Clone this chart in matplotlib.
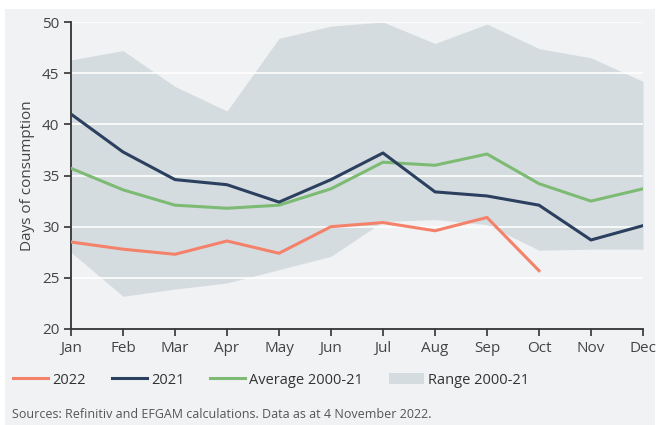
import matplotlib
matplotlib.use("Agg")
import matplotlib.pyplot as plt
from matplotlib.patches import Rectangle, Patch
from matplotlib.lines import Line2D

months = ["Jan", "Feb", "Mar", "Apr", "May", "Jun", "Jul", "Aug", "Sep", "Oct", "Nov", "Dec"]
range_upper = [46.3, 47.2, 43.7, 41.3, 48.4, 49.6, 50.0, 47.9, 49.8, 47.4, 46.5, 44.2]
range_lower = [27.5, 23.2, 23.9, 24.5, 25.8, 27.1, 30.5, 30.7, 30.2, 27.7, 27.8, 27.8]
y2021 = [41.0, 37.3, 34.6, 34.1, 32.4, 34.6, 37.2, 33.4, 33.0, 32.1, 28.7, 30.1]
avg = [35.7, 33.6, 32.1, 31.8, 32.1, 33.7, 36.3, 36.0, 37.1, 34.2, 32.5, 33.7]
y2022 = [28.5, 27.8, 27.3, 28.6, 27.4, 30.0, 30.4, 29.6, 30.9, 25.7]
yticks = [20, 25, 30, 35, 40, 45, 50]

c2022 = "#f4826a"
c2021 = "#2b3f5f"
cavg = "#7dbb74"
crange = "#d5dce0"
bg = "#f0f2f4"
txt = "#333333"

plt.rcParams['font.family'] = ['Open Sans', 'DejaVu Sans']

fig = plt.figure(figsize=(6.63, 4.25), dpi=100)
fig.patch.set_facecolor("white")
fig.patches.append(Rectangle((5/663, 0), 650/663, 1 - 9/425, transform=fig.transFigure,
                             facecolor=bg, edgecolor="none", zorder=-10))

ax = fig.add_axes([71/663, 1 - 329/425, (643 - 71)/663, (329 - 22)/425])
ax.set_facecolor("none")
x = list(range(len(months)))
ax.fill_between(x, range_lower, range_upper, color=crange, linewidth=0, zorder=1)
for t in yticks[1:]:
    ax.axhline(t, color="white", lw=1.2, zorder=1.5)
ax.plot(x[:len(y2022)], y2022, color=c2022, lw=2.2, zorder=3)
ax.plot(x, y2021, color=c2021, lw=2.2, zorder=4)
ax.plot(x, avg, color=cavg, lw=2.2, zorder=3)

ax.set_xlim(0, 11)
ax.set_ylim(20, 50)
ax.set_xticks(x)
ax.set_xticklabels(months)
ax.set_yticks(yticks)
for s in ["top", "right"]:
    ax.spines[s].set_visible(False)
for s in ["left", "bottom"]:
    ax.spines[s].set_color(txt)
    ax.spines[s].set_linewidth(1.3)
ax.spines["bottom"].set_zorder(5)
ax.tick_params(axis="both", colors=txt, labelcolor="#444444", labelsize=11, length=5, width=1.2, direction="out")
ax.set_ylabel("Days of consumption", fontsize=11, color="#444444", labelpad=5)

handles = [Line2D([], [], color=c2022, lw=2.2),
           Line2D([], [], color=c2021, lw=2.2),
           Line2D([], [], color=cavg, lw=2.2),
           Patch(facecolor=crange, edgecolor="none")]
labels = ["2022", "2021", "Average 2000-21", "Range 2000-21"]
leg = fig.legend(handles, labels, loc="center left", bbox_to_anchor=(0.0, 1 - 380/425), ncol=4,
                 frameon=False, fontsize=10.5, handlelength=2.4, handletextpad=0.3, columnspacing=1.75,
                 labelcolor="#333333")

fig.text(12/663, 1 - 415/425, "Sources: Refinitiv and EFGAM calculations. Data as at 4 November 2022.",
         fontsize=9, color="#555555", va="center", ha="left")

fig.savefig("out.png", dpi=100, facecolor=fig.get_facecolor())
